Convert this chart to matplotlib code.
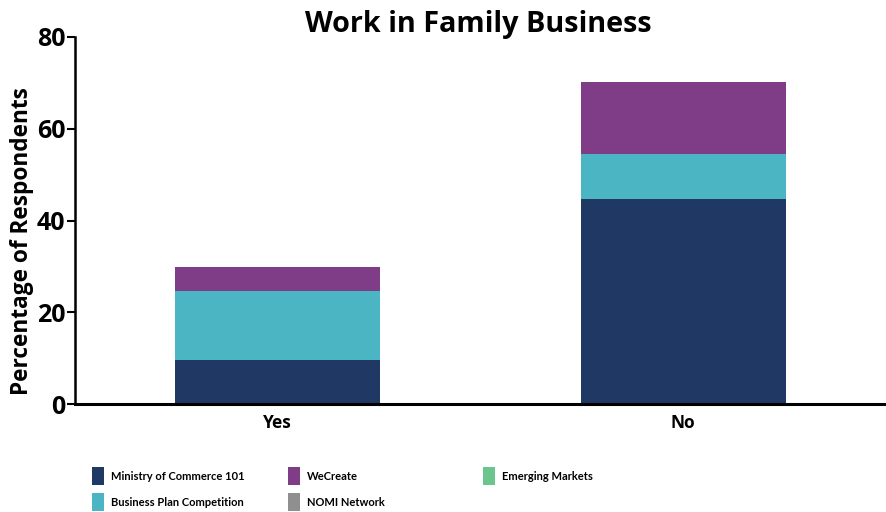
import numpy as np
import matplotlib.pyplot as plt
from matplotlib.patches import Patch

plt.rcParams['font.family'] = ['Open Sans', 'DejaVu Sans']
plt.rcParams['font.weight'] = 'bold'

answers = ["Yes", "No"]
series = ["Ministry of Commerce 101", "Business Plan Competition", "WeCreate",
          "NOMI Network", "Emerging Markets"]
ministry = [9.7, 44.6]
business_plan = [14.9, 10.0]
wecreate = [5.2, 15.5]
nomi = [0.0, 0.0]
emerging = [0.0, 0.0]
colors = ["#203864", "#4BB5C4", "#7F3C87", "#8F8F8F", "#6CC58C"]

fig = plt.figure(figsize=(8.86, 5.12), dpi=100)
ax = fig.add_axes([75/886, 108/512, 811/886, 367/512])

x = np.arange(len(answers))
bottom = np.zeros(len(answers))
for vals, col in zip([ministry, business_plan, wecreate, nomi, emerging], colors):
    ax.bar(x, vals, width=0.505, bottom=bottom, color=col, linewidth=0)
    bottom += np.array(vals)

ax.set_xlim(-0.5, 1.5)
ax.set_ylim(0, 80)
ax.set_yticks([0, 20, 40, 60, 80])
ax.set_xticks(x)
ax.set_xticklabels(answers, fontsize=12.5, fontweight='bold')
ax.tick_params(axis='x', length=0, pad=7)
ax.tick_params(axis='y', length=6, width=1.5, labelsize=18, pad=1)
for lab in ax.get_yticklabels():
    lab.set_fontweight('bold')

ax.spines['top'].set_visible(False)
ax.spines['right'].set_visible(False)
ax.spines['left'].set_linewidth(1.8)
ax.spines['bottom'].set_linewidth(2.2)

ax.set_ylabel("Percentage of Respondents", fontsize=16.3, fontweight='bold')
ax.yaxis.set_label_coords(-0.051, 0.445)
fig.text(0.54, 0.953, "Work in Family Business", ha='center', va='center',
         fontsize=20.7, fontweight='bold')

# legend columns are laid out separately so their spacing can differ
handles = [Patch(facecolor=c, edgecolor='none') for c in colors]
legend_cols = [(92, [0, 1]), (288, [2, 3]), (483, [4])]
for left, idx in legend_cols:
    fig.legend([handles[i] for i in idx], [series[i] for i in idx],
               loc='upper left', bbox_to_anchor=(left/886, 1 - 467/512),
               frameon=False, borderaxespad=0, borderpad=0,
               prop={'family': ['Lato', 'DejaVu Sans'], 'weight': 'bold', 'size': 8},
               handlelength=1.08, handleheight=2.12, labelspacing=0.72,
               handletextpad=0.63)

fig.savefig("out.png", dpi=100)
